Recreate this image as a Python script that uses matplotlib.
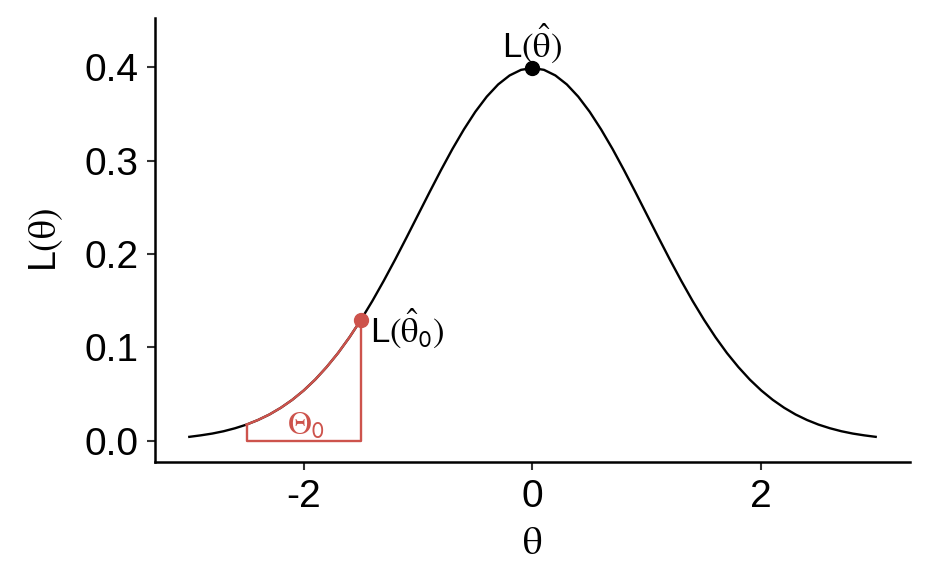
import matplotlib
matplotlib.use("Agg")
import matplotlib.pyplot as plt
import numpy as np

plt.rcParams['font.family'] = ['Liberation Sans', 'DejaVu Sans']
plt.rcParams['mathtext.fontset'] = 'stix'
plt.rcParams['axes.unicode_minus'] = False

# Likelihood curve (grid of theta, step 0.1)
theta = np.linspace(-3, 3, 61)
lik = [0.0044, 0.0060, 0.0079, 0.0104, 0.0136, 0.0175, 0.0224, 0.0283, 0.0355, 0.0440,
       0.0540, 0.0656, 0.0790, 0.0940, 0.1109, 0.1295, 0.1497, 0.1714, 0.1942, 0.2179,
       0.2420, 0.2661, 0.2897, 0.3123, 0.3332, 0.3521, 0.3683, 0.3814, 0.3910, 0.3970,
       0.3989,
       0.3970, 0.3910, 0.3814, 0.3683, 0.3521, 0.3332, 0.3123, 0.2897, 0.2661, 0.2420,
       0.2179, 0.1942, 0.1714, 0.1497, 0.1295, 0.1109, 0.0940, 0.0790, 0.0656, 0.0540,
       0.0440, 0.0355, 0.0283, 0.0224, 0.0175, 0.0136, 0.0104, 0.0079, 0.0060, 0.0044]
lik = np.array(lik)

# restricted region Theta_0 and the two maxima
region_lo, region_hi = -2.5, -1.5
mle_x, mle_y = 0.0, 0.3989
mle0_x, mle0_y = -1.5, 0.1295

red = '#CD534C'

fig = plt.figure(figsize=(9.32, 5.82), dpi=100)
ax = fig.add_axes([0.1663, 0.2062, 0.8101, 0.7628])

ax.plot(theta, lik, color='black', lw=1.7)

mask = (theta >= region_lo - 1e-9) & (theta <= region_hi + 1e-9)
rx = theta[mask]
ry = lik[mask]
ax.plot(rx, ry, color=red, lw=1.7)
ax.plot([region_lo, region_lo, region_hi, region_hi], [ry[0], 0, 0, ry[-1]], color=red, lw=1.7)

ax.plot(mle_x, mle_y, 'o', color='black', ms=10)
ax.plot(mle0_x, mle0_y, 'o', color=red, ms=10)

ax.text(mle_x, mle_y + 0.003, r'L$(\hat{\mathrm{\theta}})$', ha='center', va='bottom', fontsize=25)
ax.text(mle0_x + 0.08, mle0_y - 0.009, r'L$(\hat{\mathrm{\theta}}_{\mathsf{0}})$', ha='left', va='center',
        fontsize=25)
ax.text((region_lo + region_hi) / 2 + 0.02, 0.016, r'$\Theta_{\mathsf{0}}$', ha='center', va='center',
        fontsize=24, color=red)

ax.set_xlim(-3.3, 3.3)
ax.set_ylim(-0.0225, 0.4524)
ax.set_xticks([-2, 0, 2])
ax.set_yticks([0.0, 0.1, 0.2, 0.3, 0.4])
ax.set_yticklabels(['0.0', '0.1', '0.2', '0.3', '0.4'])

ax.set_xlabel(r'$\mathrm{\theta}$', fontsize=28, labelpad=8)
ax.set_ylabel(r'L$(\mathrm{\theta})$', fontsize=27, labelpad=14)

for s in ['top', 'right']:
    ax.spines[s].set_visible(False)
for s in ['left', 'bottom']:
    ax.spines[s].set_linewidth(1.8)
ax.tick_params(axis='both', length=6, width=1.5, color='#333333', labelsize=28, pad=6)

fig.savefig('out.png', dpi=100)
